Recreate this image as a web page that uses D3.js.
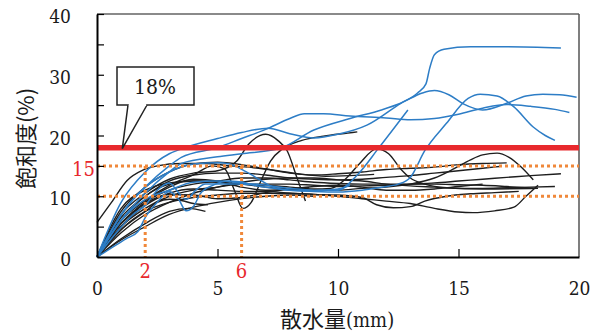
<!DOCTYPE html>
<html>
<head>
<meta charset="utf-8">
<script src="https://cdn.jsdelivr.net/npm/d3@7"></script>
<style>
  html, body { margin: 0; padding: 0; background: #fff; }
  svg { display: block; }
</style>
</head>
<body>
<svg id="chart" width="601" height="335"></svg>
<script>
// Axis ticks
const xTickLabels = [0, 5, 10, 15, 20];
const yTickLabels = [0, 10, 20, 30, 40];
const xMinorTicks = [5, 10, 15];
const yMinorTicks = [5, 10, 15, 20, 25, 30, 35, 40];

// Reference levels
const limitLevel = 18;          // red line, called out as 18%
const guideLevels = [15, 10];   // orange dotted horizontals
const guideDepths = [2, 6];     // orange dotted verticals (mm)

// Blue series: [rainfall mm, saturation %]
const blueA = [[0,0],[1,9],[2,14],[3,17],[3.5,17.8],[5,19.5],[6,20.5],[7.1,21.2],[8,20.3],[9,19.6],[10,20.2],[11.2,21.7],[12.6,25.3],[13.3,27],[13.65,28.5],[13.8,31],[14,33.3],[14.4,34.2],[15.5,34.6],[17,34.6],[19.25,34.4]];
const blueC = [[0,0],[1,6],[2,10.5],[3,14],[3.5,15.4],[5,16.5],[6,17],[7.6,17.9],[9,20.9],[10.5,22.8],[11.8,24.2],[12.6,25.3],[13.5,27],[14,27.4],[14.6,26.7],[15.2,25.2],[16,24.2],[17,25.3],[17.8,26.5],[18.5,26.8],[19.2,26.7],[19.9,26.3]];
const blueD = [[0,0],[1,7],[2,11.5],[3,15],[3.5,16.4],[5,18],[6,19.5],[7,21],[8,22.8],[8.6,23.6],[9.4,23.6],[10.5,23.2],[12,22.9],[13,22.6],[14,22.8],[15,23.5],[16,24.5],[17,25.1],[18,24.8],[19,24.3],[19.6,23.8]];
const blueE = [[0,0],[1,6],[2,9.5],[3,11],[4,12.3],[5,12.5],[6,12.2],[7,11.8],[8,11.3],[9,11],[10,11],[10.8,13.5],[11.7,18],[12.9,24.2]];
const blueF = [[0,0],[0.8,4],[1.5,7],[2,8.5],[2.5,11],[3,12.2],[3.4,10.5],[3.7,9.5],[4.1,11],[4.5,12],[5,12],[6,12],[7,11.5],[8,11],[9,10.8],[10,10.7],[11,11],[11.8,11.5],[12.5,12],[13,13.1],[13.6,17.5],[14.5,22],[15.4,26.1],[15.9,26.8],[16.6,26.5],[17.3,24.7],[18.1,21.4],[18.6,20],[19,19.2]];
const blueG = [[0,0],[0.6,1.5],[1.2,3],[1.7,4.2],[2,6.5],[2.5,9],[3,10.8],[3.4,9.4],[3.7,7.6],[4,8.3],[4.3,10.5],[4.8,11.8],[5.5,12.5],[6.2,12.2]];
const blueH = [[0,0],[0.7,5],[1.5,9.5],[2,11.5],[3,14],[4,15.3],[5,15.5],[5.5,15.3],[6.2,14],[6.8,12.6],[7.3,11.5],[8,11],[9,10.9],[10,11.2],[10.5,11.8]];

// Black series
const blackK1 = [[0,5.7],[0.6,9],[1.25,12.6],[1.9,14.3],[2.5,15],[3.5,15.4],[4.5,15.4],[5.5,15],[6.5,14.7],[7.5,14.2],[8.5,13.6],[9.5,13.3],[10.5,13.4],[11.5,13.6]];
const blackHump = [[0,0],[1,7],[2,10.5],[3,12.8],[4,13.8],[5,14.2],[5.8,15.8],[6.3,18.6],[7,20.2],[7.5,19.2],[7.9,17.4],[8.3,13],[8.65,9.2]];
const blackValley = [[0,0],[1,6],[2,9.3],[3,11.8],[4,13.5],[4.8,15],[5.3,14.5],[5.7,11],[6.05,8],[6.4,9],[6.8,12.5],[7.2,15.8],[7.7,17.8],[8.5,19.2],[9.4,19.9],[10.4,20.4],[10.8,20.6]];
const blackPeak11 = [[0,0],[1,8],[2,11],[3,12.2],[4,12.5],[5,12.3],[6,12],[7,11.8],[8,11.5],[9,11.2],[9.7,11.3],[10.3,12.8],[10.9,15.4],[11.6,17.8],[12.1,17],[12.6,14.5],[13,13],[13.6,12],[14.5,11.4],[16,11.2],[18.3,11.3]];
const blackPeak16 = [[0,0],[1,6],[2,10],[3,12],[4,12.5],[5,12.3],[6,12],[7,11.5],[8,11.2],[9,11],[10,11],[11,11.3],[12,11.5],[13,12],[14,13],[14.8,14.5],[15.5,16],[16,16.8],[16.6,17.1],[17.1,16.4],[17.6,14.8],[18.1,12.7]];
const blackValley15 = [[0,0],[1,5],[2,8.5],[3,10.5],[4,11.2],[5,11],[6,10.8],[7,10.8],[8,10.5],[9,10.3],[10,10],[11,9.6],[12,9.2],[13,8.8],[14,8],[15,7.4],[15.6,7.3],[16.5,7.6],[17.3,8.2],[17.8,10],[18.3,11.8]];
const blackValley12 = [[0,0],[1,4.5],[2,7.5],[3,9],[4,9.8],[5,10.2],[6,10.5],[7,10.5],[8,10.5],[9,10.3],[10,10.2],[11,9.8],[11.6,8.6],[12.3,8.1],[13,8.3],[13.6,9.2],[14.5,10],[15.5,10.4],[16.5,10.6],[17.5,10.8]];
const blackEnd19a = [[0,0],[1,5],[2,8],[3,10],[4,11],[5,11.5],[6,12],[7,12],[8,12],[9,11.8],[10,11.6],[11,11.7],[12,11.8],[13,12],[14,12.2],[15,12.5],[16,12.8],[17,13.1],[18,13.4],[19.25,13.7]];
const blackEnd19b = [[0,0],[1,4],[2,7],[3,9],[4,10.5],[5,11.5],[6,12.3],[7,12.8],[8,13],[9,13],[10,12.7],[11,12.5],[12,12],[13,11.7],[14,11.5],[15,11.3],[16,11.3],[17,11.4],[19,11.6]];
const blackEnd16 = [[0,0],[1,6.5],[2,10],[3,12.5],[4,13.5],[5,13.8],[6,13.8],[7,13.5],[8,13],[9,12.8],[10,12.7],[11,12.8],[12,13.1],[13,13.4],[14,13.8],[15,14.2],[16,14.6],[16.7,14.9]];
const blackEnd18 = [[0,0],[1,5.5],[2,9],[3,11],[4,12],[5,12.5],[6,13],[7,13],[8,12.7],[9,12.3],[10,12.1],[11,12],[12,12],[13,12],[14,12],[15,11.9],[16,11.8],[17,11.6],[18.3,11.3]];
const blackMid = [[0,0],[1,7.5],[2,11.5],[3,14],[4,15.3],[5,15.6],[6,15.2],[7,14.5],[8,13.8],[9,13.5],[10,13.7],[11,14],[12,14.4],[13,14.6],[14,14.8],[15,15.2],[16,15.4],[17,15.5]];
const blackWave = [[0,0],[1,5],[2,9],[3,11.5],[4,12.8],[5,12.5],[6,11.5],[7,11],[8,11.2],[9,11.6],[10,11.8],[11,11.5],[12,11],[13,11],[14,11.2],[15,11.6],[16,12]];
const blackShort1 = [[0,0],[1,3],[2,5.5],[3,7.5],[3.8,8],[4.5,7.5]];
const blackShort2 = [[0,0],[1,4.5],[2,7.5],[2.5,9],[3,9.5],[3.5,9.3],[4,8.8],[4.6,8.6]];
const blackShort3 = [[0,0],[1,5.5],[2,8.8],[3,10.3],[4,10.2],[5,9.6],[6,9.8],[7,10.6],[8,11.2],[8.8,11.4]];
const blackLow = [[0,0],[1,2.8],[2,5],[3,7],[4,8.2],[5,9],[6,9.6],[7,10],[8,10.2],[9,10]];

const blueSeries = [blueA, blueC, blueD, blueE, blueF, blueG, blueH];
const blackSeries = [blackK1, blackHump, blackValley, blackPeak11, blackPeak16, blackValley15,
  blackValley12, blackEnd19a, blackEnd19b, blackEnd16, blackEnd18, blackMid, blackWave,
  blackShort1, blackShort2, blackShort3, blackLow];

const svg = d3.select("#chart");
const x = d3.scaleLinear().domain([0, 20]).range([97, 579]);
const y = d3.scaleLinear().domain([0, 40]).range([257, 14]);

const serif = "'DejaVu Serif Condensed', 'DejaVu Serif', serif";
const cjk = "'Noto Sans CJK JP', 'Noto Sans CJK SC', sans-serif";
const RED = "#e8292d";
const ORANGE = "#f0883a";
const BLUE = "#2d7dc6";
const INK = "#1a1a1a";

// Frame: top and right borders
svg.append("line").attr("x1", x(0)).attr("x2", x(20)).attr("y1", y(40)).attr("y2", y(40))
  .attr("stroke", "#8a8a8a").attr("stroke-width", 2);
svg.append("line").attr("x1", x(20)).attr("x2", x(20)).attr("y1", y(40)).attr("y2", y(0))
  .attr("stroke", "#555").attr("stroke-width", 1.5);

// Curves
const line = d3.line().x(d => x(d[0])).y(d => y(d[1])).curve(d3.curveMonotoneX);
svg.append("g").selectAll("path").data(blackSeries).join("path")
  .attr("d", line).attr("fill", "none").attr("stroke", "#1e1e1e").attr("stroke-width", 1.4);
svg.append("g").selectAll("path").data(blueSeries).join("path")
  .attr("d", line).attr("fill", "none").attr("stroke", BLUE).attr("stroke-width", 1.5);

// Orange guide lines
const guides = svg.append("g").attr("stroke", ORANGE).attr("stroke-width", 3).attr("stroke-dasharray", "3,3");
guides.selectAll("line.h").data(guideLevels).join("line").attr("class", "h")
  .attr("x1", x(0)).attr("x2", x(20)).attr("y1", d => y(d)).attr("y2", d => y(d));
guides.selectAll("line.v").data(guideDepths).join("line").attr("class", "v")
  .attr("x1", d => x(d)).attr("x2", d => x(d)).attr("y1", y(guideLevels[0])).attr("y2", y(0));

// Red limit line
svg.append("line").attr("x1", x(0)).attr("x2", x(20)).attr("y1", y(limitLevel)).attr("y2", y(limitLevel))
  .attr("stroke", RED).attr("stroke-width", 5.5);

// Axes
const yAxis = svg.append("g").attr("transform", `translate(${x(0)},0)`)
  .call(d3.axisLeft(y).tickValues(yTickLabels).tickSize(0).tickSizeOuter(0).tickPadding(26).tickFormat(d3.format("d")));
yAxis.select(".domain").attr("stroke", "#000").attr("stroke-width", 2);
yAxis.selectAll("text").attr("font-family", serif).attr("font-size", 19).attr("fill", INK).attr("dy", "0.45em");

svg.append("g").attr("transform", `translate(${x(0)},0)`)
  .call(d3.axisLeft(y).tickValues(yMinorTicks).tickSize(-7).tickSizeOuter(0).tickFormat(""))
  .call(g => g.select(".domain").remove())
  .selectAll("line").attr("stroke", "#000").attr("stroke-width", 1.2);

const xAxis = svg.append("g").attr("transform", `translate(0,${y(0)})`)
  .call(d3.axisBottom(x).tickValues(xTickLabels).tickSize(0).tickSizeOuter(0).tickPadding(25).tickFormat(d3.format("d")));
xAxis.select(".domain").attr("stroke", "#000").attr("stroke-width", 2);
xAxis.selectAll("text").attr("font-family", serif).attr("font-size", 19).attr("fill", INK);

svg.append("g").attr("transform", `translate(0,${y(0)})`)
  .call(d3.axisBottom(x).tickValues(xMinorTicks).tickSize(-8).tickSizeOuter(0).tickFormat(""))
  .call(g => g.select(".domain").remove())
  .selectAll("line").attr("stroke", "#000").attr("stroke-width", 1.2);

// Red value labels for guides
svg.append("text").attr("x", x(0) - 2).attr("y", y(guideLevels[0]) + 10)
  .attr("text-anchor", "end").attr("font-family", serif).attr("font-size", 20).attr("fill", RED)
  .text(guideLevels[0]);
svg.selectAll("text.depth").data(guideDepths).join("text").attr("class", "depth")
  .attr("x", d => x(d)).attr("y", y(0) + 21)
  .attr("text-anchor", "middle").attr("font-family", serif).attr("font-size", 20).attr("fill", RED)
  .text(d => d);

// Axis titles
svg.append("text")
  .attr("transform", `translate(24,${(80 + 197) / 2}) rotate(-90)`)
  .attr("text-anchor", "middle").attr("dominant-baseline", "central")
  .attr("font-family", cjk).attr("font-size", 22).attr("fill", INK)
  .text("飽和度(%)");

const xt = svg.append("text").attr("x", 280).attr("y", 327)
  .attr("font-size", 22).attr("fill", INK);
xt.append("tspan").attr("font-family", cjk).text("散水量");
xt.append("tspan").attr("font-family", serif).attr("font-size", 20).text("(mm)");

// Callout for the limit line
const callout = svg.append("g");
callout.append("rect").attr("x", 117).attr("y", 67).attr("width", 77).attr("height", 38)
  .attr("fill", "#fff").attr("stroke", "#222").attr("stroke-width", 1.5);
callout.append("path")
  .attr("d", `M128,105 L${x(1.05)},${y(limitLevel) + 1} L147,105`)
  .attr("fill", "#fff").attr("stroke", "#222").attr("stroke-width", 1.5);
callout.append("line").attr("x1", 128.8).attr("x2", 146.2).attr("y1", 105).attr("y2", 105)
  .attr("stroke", "#fff").attr("stroke-width", 2);
callout.append("text").attr("x", 155).attr("y", 94).attr("text-anchor", "middle")
  .attr("font-family", serif).attr("font-size", 21).attr("fill", INK)
  .text(limitLevel + "%");
</script>
</body>
</html>
